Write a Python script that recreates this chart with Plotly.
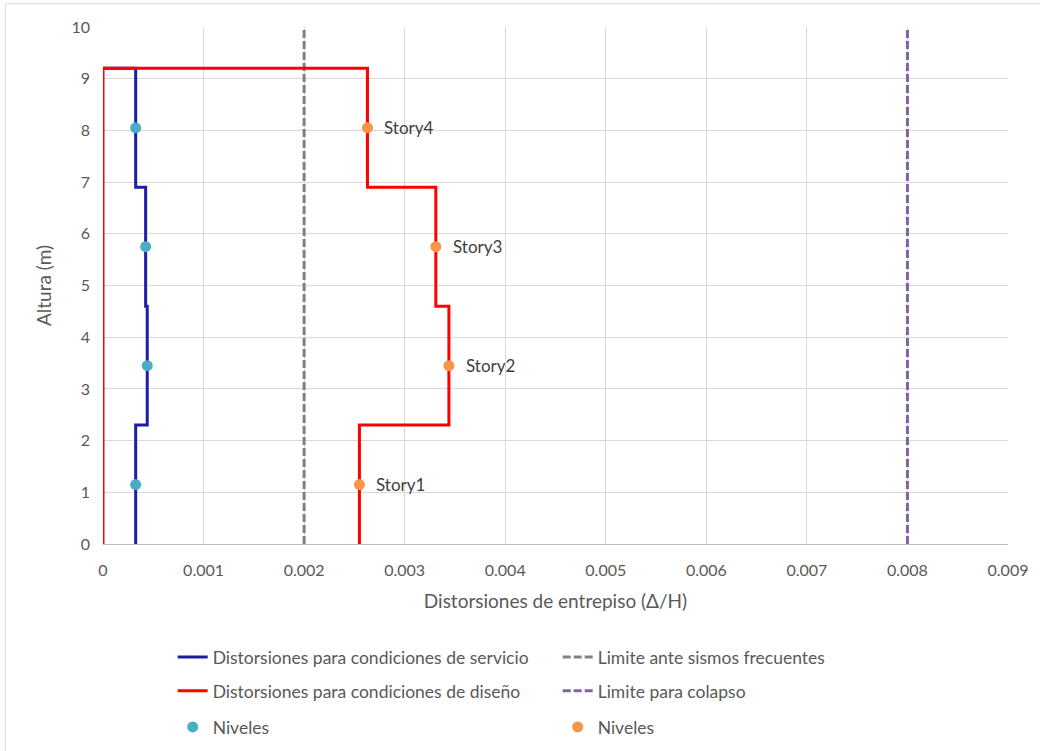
import plotly.graph_objects as go

# Data
heights_step = [9.2, 9.2, 6.9, 6.9, 4.6, 4.6, 2.3, 2.3, 0]
serv_step_x = [0, 0.000325, 0.000325, 0.000424, 0.000424, 0.00044, 0.00044, 0.000325, 0.000325]
red_heights = [0, 9.2, 9.2, 6.9, 6.9, 4.6, 4.6, 2.3, 2.3, 0]
design_step_x = [0, 0, 0.00263, 0.00263, 0.00331, 0.00331, 0.00344, 0.00344, 0.00255, 0.00255]

story_labels = ["Story4", "Story3", "Story2", "Story1"]
story_heights = [8.05, 5.75, 3.45, 1.15]
serv_story_x = [0.000325, 0.000424, 0.00044, 0.000325]
design_story_x = [0.00263, 0.00331, 0.00344, 0.00255]

limit_frequent = 0.002
limit_collapse = 0.008
limit_heights = [0, 10]

x_ticks = [0, 0.001, 0.002, 0.003, 0.004, 0.005, 0.006, 0.007, 0.008, 0.009]
x_tick_text = ["0", "0.001", "0.002", "0.003", "0.004", "0.005", "0.006", "0.007", "0.008", "0.009"]
y_ticks = list(range(0, 11))

font_fam = "Lato, Open Sans, sans-serif"
txt_col = "#595959"

fig = go.Figure()
fig.add_trace(go.Scatter(x=serv_step_x, y=heights_step, mode="lines",
                         line=dict(color="#1c1ca6", width=3),
                         name="Distorsiones para condiciones de servicio", legend="legend"))
fig.add_trace(go.Scatter(x=[limit_frequent] * 2, y=limit_heights, mode="lines",
                         line=dict(color="#808080", width=3, dash="8px,3px"),
                         name="Limite ante sismos frecuentes", legend="legend"))
fig.add_trace(go.Scatter(x=design_step_x, y=red_heights, mode="lines",
                         line=dict(color="#ff0000", width=3),
                         name="Distorsiones para condiciones de diseño", legend="legend2"))
fig.add_trace(go.Scatter(x=[limit_collapse] * 2, y=limit_heights, mode="lines",
                         line=dict(color="#8064a2", width=3, dash="8px,3px"),
                         name="Limite para colapso", legend="legend2"))
fig.add_trace(go.Scatter(x=serv_story_x, y=story_heights, mode="markers",
                         marker=dict(color="#4bacc6", size=11),
                         name="Niveles", legend="legend3"))
fig.add_trace(go.Scatter(x=design_story_x, y=story_heights, mode="markers",
                         marker=dict(color="#f79646", size=11),
                         name="Niveles", legend="legend3"))

for lab, xv, yv in zip(story_labels, design_story_x, story_heights):
    fig.add_annotation(x=xv, y=yv, text=lab, showarrow=False, xanchor="left",
                       xshift=15, font=dict(size=17, color="#404040", family=font_fam))

fig.add_shape(type="rect", xref="paper", yref="paper", x0=-0.108, x1=1.04, y0=-0.404, y1=1.045,
              line=dict(color="#d9d9d9", width=1), layer="below")

leg_common = dict(orientation="h", x=0.077, xanchor="left", yanchor="middle",
                  entrywidth=340, entrywidthmode="pixels",
                  font=dict(size=17.5, color=txt_col, family=font_fam),
                  bgcolor="rgba(0,0,0,0)")

fig.update_layout(
    width=1040, height=751,
    margin=dict(l=103, r=32, t=27, b=207, autoexpand=False),
    plot_bgcolor="white", paper_bgcolor="white",
    font=dict(family=font_fam, size=16, color=txt_col),
    xaxis=dict(range=[0, 0.009], tickvals=x_ticks, ticktext=x_tick_text,
               showgrid=True, gridcolor="#d9d9d9", gridwidth=1,
               zeroline=False, showline=True, linecolor="#bfbfbf",
               ticks="", ticklabelstandoff=12, automargin=False,
               title=dict(text="Distorsiones de entrepiso (Δ/H)", font=dict(size=19), standoff=16)),
    yaxis=dict(range=[0, 10], tickvals=y_ticks,
               showgrid=True, gridcolor="#d9d9d9", gridwidth=1,
               zeroline=False, showline=False, ticks="", ticklabelstandoff=12, automargin=False,
               title=dict(text="Altura (m)", font=dict(size=19), standoff=14)),
    legend=dict(y=-0.2186, **leg_common),
    legend2=dict(y=-0.2843, **leg_common),
    legend3=dict(y=-0.354, **leg_common),
)

fig.write_html("out.html", config={"displayModeBar": False},
               post_script="document.body.style.margin='0';")
